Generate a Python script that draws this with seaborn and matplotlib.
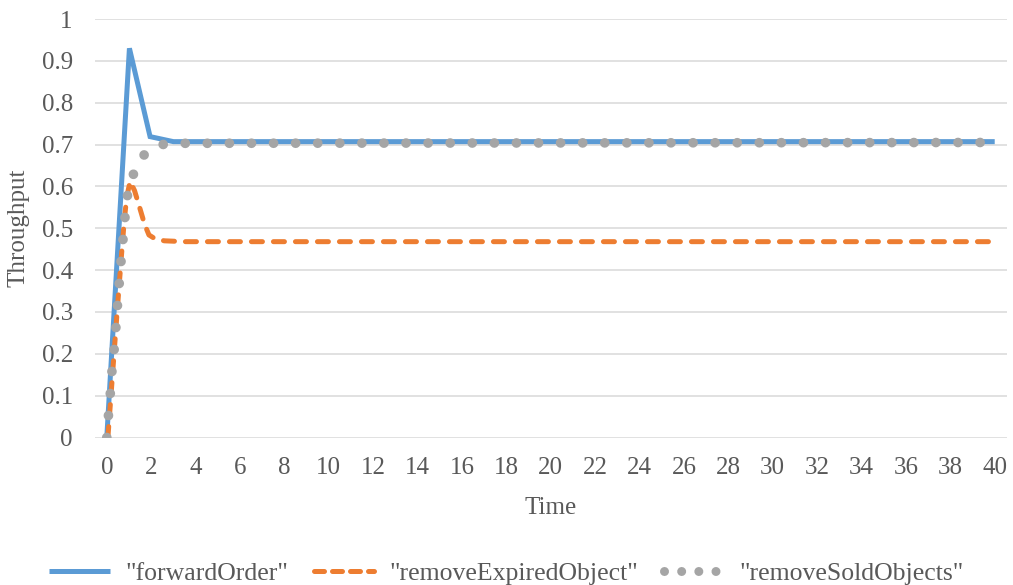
import matplotlib
matplotlib.use("Agg")
import matplotlib.pyplot as plt
from matplotlib.lines import Line2D
import seaborn as sns
import pandas as pd

# Throughput over time for three operations
forward_time = [0, 1.02, 1.95, 3.0, 40]
forward_tp = [0, 0.93, 0.719, 0.707, 0.707]

expired_time = [0.05, 0.45, 0.68, 0.79, 0.9, 1.05, 1.25, 1.45, 1.7, 1.9, 2.2, 2.6, 3.5, 40]
expired_tp = [0, 0.289, 0.448, 0.52, 0.575, 0.612, 0.59, 0.555, 0.51, 0.484, 0.474, 0.47, 0.468, 0.468]

sold_time = [0, 0.07, 0.15, 0.23, 0.33, 0.41, 0.48, 0.56, 0.64, 0.73, 0.82, 0.93, 1.2, 1.69, 2.45, 3.4, 40]
sold_tp = [0, 0.05, 0.10, 0.157, 0.209, 0.262, 0.315, 0.368, 0.42, 0.473, 0.526, 0.578, 0.629, 0.676, 0.70, 0.703, 0.705]

series_names = ['"forwardOrder"', '"removeExpiredObject"', '"removeSoldObjects"']
y_ticks = [0, 0.1, 0.2, 0.3, 0.4, 0.5, 0.6, 0.7, 0.8, 0.9, 1]
y_tick_labels = ["0", "0.1", "0.2", "0.3", "0.4", "0.5", "0.6", "0.7", "0.8", "0.9", "1"]
x_ticks = list(range(0, 41, 2))

sns.set_theme(style="white")
plt.rcParams["font.family"] = ["Liberation Serif", "DejaVu Serif"]

TEXT = "#595959"
BLUE = "#5B9BD5"
ORANGE = "#ED7D31"
GRAY = "#A5A5A5"
FS = 18

fig = plt.figure(figsize=(10.13, 5.85), dpi=100)
ax = fig.add_axes([0.0938, 0.2521, 0.9002, 0.7154])

for s in ax.spines.values():
    s.set_visible(False)
ax.set_axisbelow(True)
ax.grid(axis="y", color="#D9D9D9", linewidth=1.1)

df_f = pd.DataFrame({"Time": forward_time, "Throughput": forward_tp})
df_e = pd.DataFrame({"Time": expired_time, "Throughput": expired_tp})
df_s = pd.DataFrame({"Time": sold_time, "Throughput": sold_tp})

sns.lineplot(data=df_f, x="Time", y="Throughput", ax=ax, color=BLUE,
             linewidth=3.6, estimator=None, sort=False,
             solid_capstyle="butt", solid_joinstyle="miter", legend=False)
sns.lineplot(data=df_e, x="Time", y="Throughput", ax=ax, color=ORANGE,
             linewidth=3.6, estimator=None, sort=False,
             linestyle=(0, (2.2, 2.2)), dash_capstyle="round", legend=False)
sns.lineplot(data=df_s, x="Time", y="Throughput", ax=ax, color=GRAY,
             linewidth=7.0, estimator=None, sort=False,
             linestyle=(0, (0.001, 2.27)), dash_capstyle="round", legend=False)

ax.set_xlim(-0.53, 40.55)
ax.set_ylim(0, 1)
ax.set_xticks(x_ticks)
ax.set_xticklabels([str(t) for t in x_ticks])
ax.set_yticks(y_ticks)
ax.set_yticklabels(y_tick_labels)
ax.tick_params(axis="both", length=0, labelsize=FS, labelcolor=TEXT)
ax.tick_params(axis="y", pad=16)
ax.tick_params(axis="x", pad=14)

ax.set_xlabel("Time", fontsize=FS, color=TEXT, labelpad=13)
ax.set_ylabel("Throughput", fontsize=FS, color=TEXT, labelpad=9)

# Legend handles styled like the plotted series
handles = [
    Line2D([], [], color=BLUE, linewidth=3.6, solid_capstyle="butt"),
    Line2D([], [], color=ORANGE, linewidth=3.6,
           linestyle=(0, (2.0, 1.6)), dash_capstyle="round"),
    Line2D([], [], color=GRAY, linewidth=6.5,
           linestyle=(0, (0.001, 1.9)), dash_capstyle="round"),
]
leg = fig.legend(handles, series_names, loc="lower center", ncol=3, frameon=False,
                 bbox_to_anchor=(0.5, -0.039), fontsize=18.5,
                 handlelength=2.35, handletextpad=0.6, columnspacing=1.0)
for t in leg.get_texts():
    t.set_color(TEXT)

fig.savefig("out.png", dpi=100)
